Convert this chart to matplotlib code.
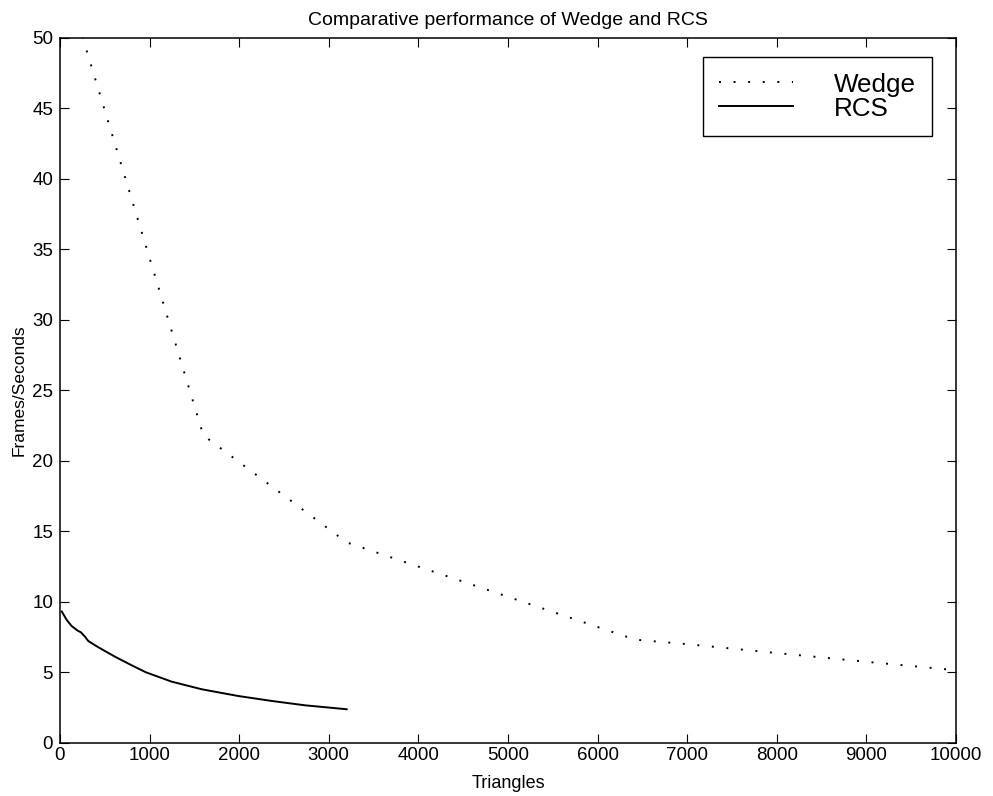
import matplotlib
matplotlib.use("Agg")
import matplotlib.pyplot as plt

plt.rcParams['font.family'] = ['Liberation Sans', 'DejaVu Sans']

# values
wedge_x = [250, 1600, 3200, 6420, 7000, 8000, 9000, 10000]
wedge_y = [50.1, 21.8, 14.2, 7.3, 6.98, 6.35, 5.73, 5.13]

rcs_x = [20, 75, 130, 197, 234, 279, 316, 428, 614, 800, 960, 1246, 1581, 1990, 2362, 2734, 3200]
rcs_y = [9.3, 8.7, 8.27, 7.94, 7.82, 7.51, 7.2, 6.76, 6.09, 5.48, 4.98, 4.32, 3.78, 3.3, 2.95, 2.64, 2.36]

x_ticks = list(range(0, 10001, 1000))
y_ticks = list(range(0, 51, 5))

fig = plt.figure(figsize=(9.93, 7.96), dpi=100)
ax = fig.add_axes([0.0604, 0.0672, 0.9023, 0.8851])

ax.plot(wedge_x, wedge_y, color='black', lw=1.4, linestyle=(0, (1, 6.5)), label='Wedge')
ax.plot(rcs_x, rcs_y, color='black', lw=1.4, label='RCS')

ax.set_xlim(0, 10000)
ax.set_ylim(0, 50)
ax.set_xticks(x_ticks)
ax.set_yticks(y_ticks)
ax.tick_params(direction='in', length=6.5, width=0.8, top=True, right=True, labelsize=13.5)
ax.tick_params(axis='x', pad=3)
ax.tick_params(axis='y', pad=5)
for s in ax.spines.values():
    s.set_linewidth(1.1)

ax.set_title('Comparative performance of Wedge and RCS', fontsize=14, pad=9)
ax.set_xlabel('Triangles', fontsize=13, labelpad=8)
ax.set_ylabel('Frames/Seconds', fontsize=12.5, labelpad=4)

leg = ax.legend(loc='upper right', bbox_to_anchor=(0.973, 0.973), borderaxespad=0,
                fontsize=18.7, handlelength=2.85, handletextpad=1.6,
                labelspacing=0.0, borderpad=0.6, fancybox=False, framealpha=1)
leg.get_frame().set_edgecolor('black')
leg.get_frame().set_linewidth(1.0)

fig.savefig('out.png', dpi=100)
